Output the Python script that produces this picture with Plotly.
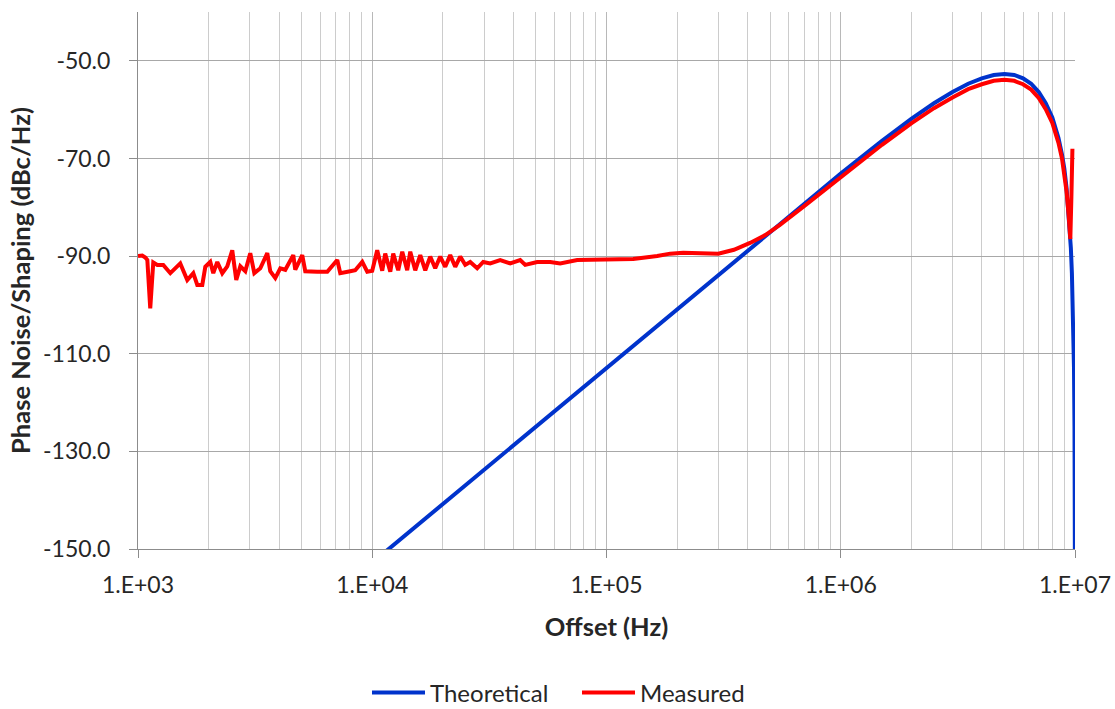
import plotly.graph_objects as go

# Theoretical shaping curve (Hz, dBc/Hz)
theo_freq = [1.0e4, 2.0e4, 5.0e4, 1.0e5, 2.0e5, 3.0e5, 5.0e5, 7.0e5, 1.0e6, 1.2e6, 1.5e6,
             2.0e6, 2.5e6, 3.0e6, 3.5e6, 4.0e6, 4.5e6, 5.0e6, 5.5e6, 6.0e6, 6.5e6, 7.0e6,
             7.5e6, 8.0e6, 8.5e6, 8.8e6, 9.0e6, 9.2e6, 9.4e6, 9.5e6, 9.6e6, 9.7e6, 9.8e6,
             9.85e6, 9.9e6, 9.95e6, 9.97e6, 9.99e6]
theo_db = [-152.8, -140.8, -124.9, -112.8, -100.8, -93.8, -84.9, -79.2, -73.1, -70.1, -66.4,
           -61.9, -58.7, -56.4, -54.7, -53.6, -52.9, -52.7, -52.9, -53.6, -54.7, -56.4,
           -58.7, -61.6, -65.8, -69.2, -72.0, -76.0, -81.2, -84.5, -88.3, -93.5, -100.8,
           -105.8, -112.8, -124.9, -133.7, -152.8]

# Measured phase noise (Hz, dBc/Hz)
meas_freq = [1000, 1043, 1075, 1096, 1128, 1162, 1209, 1282, 1374, 1515, 1623, 1722, 1791,
             1881, 1938, 2035, 2096, 2180, 2290, 2405, 2526, 2627, 2734, 2871, 3015, 3137,
             3327, 3564, 3670, 3855, 4049, 4254, 4601, 4692, 5025, 5176, 5824, 6427, 7090,
             7302, 8055, 8459, 9065, 9520, 9998, 10500, 11030, 11360, 11940, 12290, 12910,
             13430, 14100, 14530, 15260, 16030, 16840, 17680, 18570, 19510, 20490, 21520,
             22610, 23740, 24940, 26190, 28060, 29770, 31880, 35170, 38810, 42810, 44980,
             50600, 57500, 63440, 75000, 94000, 130000, 164600, 187000, 212500, 252900,
             300000, 350000, 410000, 480000, 550000, 700000, 1.0e6, 1.5e6, 2.0e6, 2.5e6,
             3.0e6, 3.5e6, 4.0e6, 4.5e6, 5.0e6, 5.5e6, 6.0e6, 6.5e6, 7.0e6, 7.5e6, 8.0e6,
             8.5e6, 8.8e6, 9.0e6, 9.2e6, 9.4e6, 9.5e6, 9.55e6, 9.65e6, 9.75e6]
meas_db = [-90.0, -89.9, -90.3, -90.8, -100.7, -91.3, -91.8, -91.8, -93.5, -91.5, -94.9,
           -93.5, -95.9, -95.9, -92.2, -91.2, -93.5, -91.2, -93.5, -92.1, -88.8, -94.9,
           -92.1, -93.1, -89.4, -93.5, -92.5, -89.4, -93.1, -94.5, -92.5, -92.8, -89.8,
           -92.8, -89.8, -93.1, -93.2, -93.2, -90.8, -93.5, -93.1, -92.9, -91.2, -93.2,
           -93.0, -88.8, -93.0, -89.5, -93.2, -89.5, -92.9, -89.1, -92.9, -89.1, -92.9,
           -89.8, -92.9, -90.1, -92.5, -90.1, -92.2, -89.8, -92.2, -90.1, -91.8, -91.2,
           -92.5, -91.2, -91.5, -90.8, -91.5, -90.8, -91.8, -91.2, -91.2, -91.5, -90.8,
           -90.8, -90.6, -90.0, -89.5, -89.3, -89.3, -89.5, -88.7, -87.3, -85.6, -83.6,
           -79.7, -73.8, -67.2, -62.8, -59.7, -57.5, -55.8, -54.8, -54.1, -53.9, -54.1,
           -54.8, -55.9, -57.6, -59.9, -62.7, -66.8, -70.0, -72.8, -76.7, -81.8, -85.0,
           -86.5, -78.0, -68.0]

y_tick_vals = [-150, -130, -110, -90, -70, -50]
y_tick_text = ["-150.0", "-130.0", "-110.0", "-90.0", "-70.0", "-50.0"]
x_tick_vals = [1e3, 1e4, 1e5, 1e6, 1e7]
x_tick_text = ["1.E+03", "1.E+04", "1.E+05", "1.E+06", "1.E+07"]

minor_vals = [m * d for d in [1e3, 1e4, 1e5, 1e6] for m in range(2, 10)]

FONT = "Lato, 'Open Sans', sans-serif"
TXT = "#262626"

fig = go.Figure()
fig.add_trace(go.Scatter(x=theo_freq, y=theo_db, mode="lines", name="Theoretical",
                         line=dict(color="#0033CC", width=4)))
fig.add_trace(go.Scatter(x=meas_freq, y=meas_db, mode="lines", name="Measured",
                         line=dict(color="#FF0000", width=4)))

fig.update_layout(
    width=1115, height=709,
    margin=dict(l=138, r=40, t=12, b=160, autoexpand=False),
    paper_bgcolor="white", plot_bgcolor="white",
    font=dict(family=FONT, size=23, color=TXT),
    showlegend=True,
    legend=dict(orientation="h", x=0.2444, xanchor="left",
                yref="container", y=0.0226, yanchor="middle",
                itemwidth=53, entrywidth=142,
                font=dict(size=24, color=TXT), traceorder="normal"),
)

fig.update_xaxes(
    type="log", range=[3, 7], automargin=False,
    tickmode="array", tickvals=x_tick_vals, ticktext=x_tick_text,
    showgrid=True, gridcolor="#B8B8B8", gridwidth=1,
    showline=True, linecolor="#8C8C8C", linewidth=1,
    ticks="outside", ticklen=8, tickcolor="#8C8C8C",
    ticklabelstandoff=7,
    tickfont=dict(size=23, color=TXT),
    minor=dict(tickmode="array", tickvals=minor_vals, showgrid=True,
               gridcolor="#CCCCCC", gridwidth=1, ticks=""),
    title=dict(text="<b>Offset (Hz)</b>", font=dict(size=25.5, color=TXT), standoff=21),
    zeroline=False,
)
fig.update_yaxes(
    range=[-150, -40], automargin=False,
    tickmode="array", tickvals=y_tick_vals, ticktext=y_tick_text,
    showgrid=True, gridcolor="#A8A8A8", gridwidth=1,
    showline=True, linecolor="#8C8C8C", linewidth=1,
    ticks="outside", ticklen=8, tickcolor="#8C8C8C",
    ticklabelstandoff=14,
    tickfont=dict(size=23, color=TXT),
    title=dict(text="<b>Phase Noise/Shaping (dBc/Hz)</b>", font=dict(size=25.5, color=TXT),
               standoff=5),
    zeroline=False,
)

fig.write_html("out.html", config={"displayModeBar": False},
               post_script="document.body.style.margin='0';")
